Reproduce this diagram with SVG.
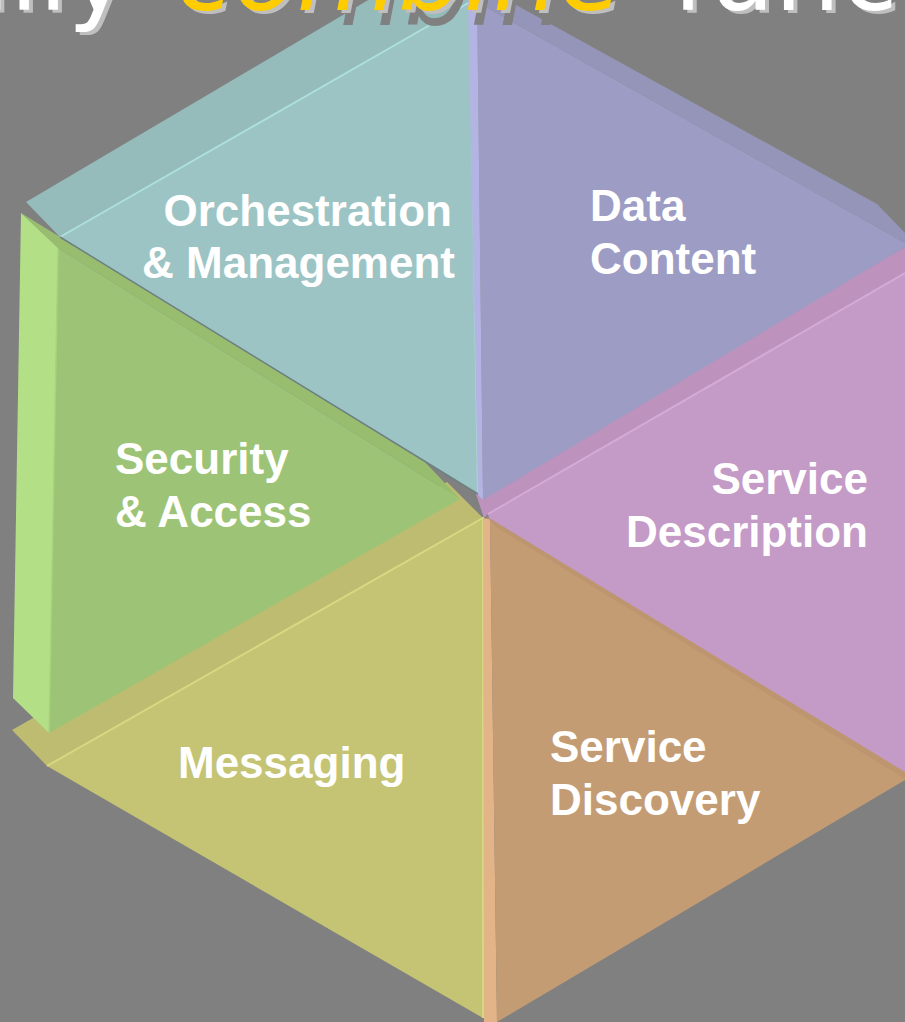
<svg xmlns="http://www.w3.org/2000/svg" width="905" height="1022" viewBox="0 0 905 1022">
<style>
.lbl{font-family:"Liberation Sans",Arial,sans-serif;font-weight:bold;font-size:44px;fill:#ffffff}
.ttl{font-family:"DejaVu Sans",Verdana,sans-serif;font-size:104px}
</style>
<rect x="0" y="0" width="905" height="1022" fill="#808080"/>
<g id="messaging">
<polygon points="12,730 47,766 483,518 447,482" fill="#bdbc70"/>
<polygon points="47,766 483,518 483,1018" fill="#c4c474"/>
<polyline points="47,766 483,518 483,1018" fill="none" stroke="#d6d882" stroke-width="2"/>
<text class="lbl" x="178" y="778">Messaging</text>
</g>
<g id="service-discovery">
<polygon points="483,518 490,519 497,1022 484,1022" fill="#e2b488"/>
<polygon points="490,519 905,776 905,780 497,1022" fill="#c49c74"/>
<polygon points="486,516 905,770 905,779 496,527" fill="#bd9670"/>
<text class="lbl" x="550" y="762">Service</text>
<text class="lbl" x="550" y="815">Discovery</text>
</g>
<g id="service-description">
<polygon points="476,494 905,247 905,273 488,514 484,518" fill="#bd93bd"/>
<polygon points="488,514 905,273 905,772 489,518" fill="#c49ac6"/>
<line x1="488" y1="514" x2="905" y2="273" stroke="#d4aad8" stroke-width="2"/>
<text class="lbl" x="868" y="494" text-anchor="end">Service</text>
<text class="lbl" x="868" y="547" text-anchor="end">Description</text>
</g>
<g id="security-access">
<polygon points="21,213 60,237 423,460 460,499 58,248" fill="#98bd6f"/>
<polygon points="21,213 58,248 49,733 13,698" fill="#b3e086"/>
<polygon points="58,248 460,499 49,733" fill="#9dc476"/>
<line x1="58" y1="248" x2="49" y2="733" stroke="#a8d47c" stroke-width="1.5"/>
<text class="lbl" x="115" y="474">Security</text>
<text class="lbl" x="115" y="527">&amp; Access</text>
</g>
<g id="orchestration-management">
<polygon points="26,202 60,237 470,2 470,-60" fill="#95bbbb"/>
<polygon points="60,237 470,2 478,494" fill="#9cc4c4"/>
<line x1="60" y1="237" x2="470" y2="2" stroke="#ade0dc" stroke-width="2"/>
<line x1="470" y1="2" x2="478" y2="494" stroke="#a8d8d0" stroke-width="2"/>
<line x1="60" y1="237" x2="478" y2="494" stroke="#6e8080" stroke-width="1.5"/>
<text class="lbl" x="452" y="226" text-anchor="end">Orchestration</text>
<text class="lbl" x="455" y="278" text-anchor="end">&amp; Management</text>
</g>
<g id="data-content">
<polygon points="477,-10 489,-10 877,204 905,233 905,243 477,2" fill="#9595b9"/>
<polygon points="477,2 905,243 905,247 483,500" fill="#9c9cc4"/>
<polygon points="468,-5 477,-5 483,500 478,495" fill="#b4b4e4"/>
<text class="lbl" x="590" y="221">Data</text>
<text class="lbl" x="590" y="274">Content</text>
</g>
<g id="title">
<text class="ttl" x="-54" y="10" fill="#bfbfbf" transform="translate(4,3)">ally</text>
<text class="ttl" x="-54" y="10" fill="#ffffff">ally</text>
<text class="ttl" x="182" y="25" fill="#808080" font-style="italic">combine</text>
<text class="ttl" x="176" y="10" fill="#bfbfbf" font-style="italic" transform="translate(4,3)">combine</text>
<text class="ttl" x="176" y="10" fill="#ffcc00" font-style="italic">combine</text>
<text class="ttl" x="672" y="10" fill="#bfbfbf" transform="translate(4,3)">func</text>
<text class="ttl" x="672" y="10" fill="#ffffff">func</text>
</g>
<g id="connectors"/>
</svg>
